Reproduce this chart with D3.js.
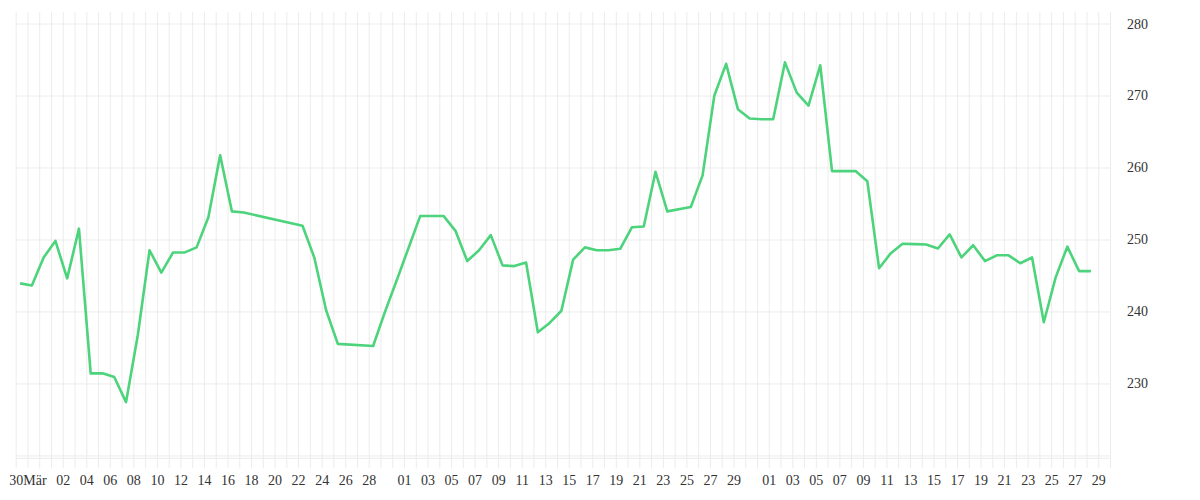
<!DOCTYPE html>
<html>
<head>
<meta charset="utf-8">
<script src="https://cdn.jsdelivr.net/npm/d3@7"></script>
<style>
  body { margin: 0; background: #fff; }
  .grid line { stroke: #ececec; }
  .grid text { fill: #333; font-family: "Liberation Serif", serif; font-size: 14px; }
</style>
</head>
<body>
<script>
var w = 1200;
var h = 500;

// daily values (gaps = no data)
var days = [
  '2024-03-29','2024-03-30','2024-03-31','2024-04-01','2024-04-02','2024-04-03','2024-04-04','2024-04-05',
  '2024-04-06','2024-04-07','2024-04-08','2024-04-09','2024-04-10','2024-04-11','2024-04-12','2024-04-13',
  '2024-04-14','2024-04-15','2024-04-16','2024-04-17','2024-04-22','2024-04-23','2024-04-24','2024-04-25',
  '2024-04-28','2024-04-29','2024-04-30','2024-05-02','2024-05-03','2024-05-04','2024-05-05','2024-05-06',
  '2024-05-07','2024-05-08','2024-05-09','2024-05-10','2024-05-11','2024-05-12','2024-05-13','2024-05-14',
  '2024-05-15','2024-05-16','2024-05-17','2024-05-18','2024-05-19','2024-05-20','2024-05-21','2024-05-22',
  '2024-05-23','2024-05-25','2024-05-26','2024-05-27','2024-05-28','2024-05-29','2024-05-30','2024-05-31',
  '2024-06-01','2024-06-02','2024-06-03','2024-06-04','2024-06-05','2024-06-06','2024-06-07','2024-06-08',
  '2024-06-09','2024-06-10','2024-06-11','2024-06-12','2024-06-13','2024-06-14','2024-06-15','2024-06-16',
  '2024-06-17','2024-06-18','2024-06-19','2024-06-20','2024-06-21','2024-06-22','2024-06-23','2024-06-24',
  '2024-06-25','2024-06-26','2024-06-27','2024-06-28'
];
var values = [
  243.9, 243.6, 247.5, 249.8, 244.6, 251.5, 231.4, 231.4,
  230.9, 227.4, 236.7, 248.5, 245.4, 248.2, 248.2, 248.9,
  253.1, 261.7, 253.9, 253.75, 251.9, 247.5, 240.2, 235.5,
  235.2, 239.9, 244.3, 253.25, 253.25, 253.25, 251.2, 247.0,
  248.5, 250.6, 246.4, 246.3, 246.8, 237.1, 238.4, 240.1,
  247.2, 248.9, 248.5, 248.5, 248.7, 251.7, 251.8, 259.4,
  253.9, 254.5, 258.9, 270.0, 274.4, 268.1, 266.8, 266.7,
  266.7, 274.6, 270.4, 268.6, 274.2, 259.5, 259.5, 259.5,
  258.1, 246.0, 248.1, 249.4, 249.35, 249.3, 248.75, 250.7,
  247.5, 249.2, 247.0, 247.8, 247.8, 246.7, 247.5, 238.5,
  244.7, 249.0, 245.6, 245.6
];

// x tick labels
var tickDays = [
  '2024-03-30','2024-04-02','2024-04-04','2024-04-06','2024-04-08','2024-04-10','2024-04-12','2024-04-14',
  '2024-04-16','2024-04-18','2024-04-20','2024-04-22','2024-04-24','2024-04-26','2024-04-28',
  '2024-05-01','2024-05-03','2024-05-05','2024-05-07','2024-05-09','2024-05-11','2024-05-13','2024-05-15',
  '2024-05-17','2024-05-19','2024-05-21','2024-05-23','2024-05-25','2024-05-27','2024-05-29',
  '2024-06-01','2024-06-03','2024-06-05','2024-06-07','2024-06-09','2024-06-11','2024-06-13','2024-06-15',
  '2024-06-17','2024-06-19','2024-06-21','2024-06-23','2024-06-25','2024-06-27','2024-06-29'
];
var tickLabels = [
  '30Mär','02','04','06','08','10','12','14','16','18','20','22','24','26','28',
  '01','03','05','07','09','11','13','15','17','19','21','23','25','27','29',
  '01','03','05','07','09','11','13','15','17','19','21','23','25','27','29'
];
// y grid lines; the bottom one has no label
var yTicks = [220, 230, 240, 250, 260, 270, 280];
var yTickLabels = ['', '230', '240', '250', '260', '270', '280'];

// plot box
var pLeft = 15.7, pRight = 1110, pTop = 12, pBottom = 458.3;

var x = d3.scaleUtc()
  .domain([new Date('2024-03-29T00:00Z'), new Date('2024-06-30T00:00Z')])
  .range([pLeft, pRight]);

var y = d3.scaleLinear().domain([219.6, 281.6]).range([pBottom, pTop]);

var svg = d3.select('body').append('svg').attr('width', w).attr('height', h);

// label lookup for the daily ticks
var labelOf = {};
tickDays.forEach(function(d, i) { labelOf[d] = tickLabels[i]; });

// vertical grid: one line per day, 10px tick below the plot
var allDays = d3.utcDay.range(x.domain()[0], d3.utcDay.offset(x.domain()[1], 1));
var xg = svg.append('g').attr('class', 'grid')
  .attr('transform', 'translate(0,' + (pBottom + 10) + ')')
  .call(d3.axisBottom(x)
    .tickValues(allDays)
    .tickSize(-(pBottom + 10 - pTop))
    .tickPadding(7)
    .tickFormat(function(d) { return labelOf[d3.utcFormat('%Y-%m-%d')(d)] || ''; }));
xg.select('.domain').remove();

// horizontal grid + right labels
var yg = svg.append('g').attr('class', 'grid')
  .attr('transform', 'translate(' + pRight + ',0)')
  .call(d3.axisRight(y)
    .tickValues(yTicks)
    .tickSize(-(pRight - pLeft))
    .tickPadding(17)
    .tickFormat(function(d, i) { return yTickLabels[i]; }));
yg.select('.domain').remove();

// bottom edge
svg.append('line')
  .attr('x1', pLeft).attr('x2', pRight)
  .attr('y1', pBottom).attr('y2', pBottom)
  .attr('stroke', '#ececec');

// the line
var data = days.map(function(d, i) {
  return { date: new Date(d + 'T09:00Z'), value: values[i] };
});

var line = d3.line()
  .x(function(d) { return x(d.date); })
  .y(function(d) { return y(d.value); });

svg.append('path')
  .datum(data)
  .attr('d', line)
  .attr('fill', 'none')
  .attr('stroke', '#4cd37b')
  .attr('stroke-width', 2.6)
  .attr('stroke-linejoin', 'round');
</script>
</body>
</html>
